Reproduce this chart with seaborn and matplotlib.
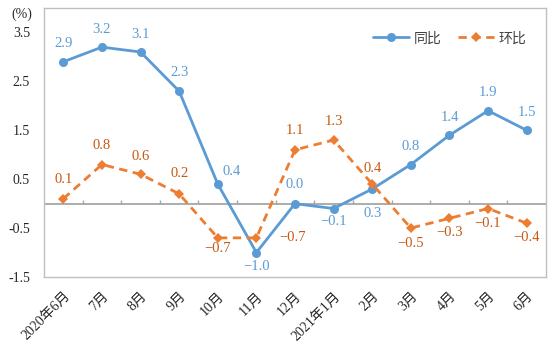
import numpy as np
import pandas as pd
import matplotlib
matplotlib.use("Agg")
import matplotlib.pyplot as plt
import seaborn as sns

categories = ["2020年6月", "7月", "8月", "9月", "10月", "11月", "12月",
              "2021年1月", "2月", "3月", "4月", "5月", "6月"]
yoy = [2.9, 3.2, 3.1, 2.3, 0.4, -1.0, 0.0, -0.1, 0.3, 0.8, 1.4, 1.9, 1.5]
mom = [0.1, 0.8, 0.6, 0.2, -0.7, -0.7, 1.1, 1.3, 0.4, -0.5, -0.3, -0.1, -0.4]
series_names = ["同比", "环比"]
y_ticks = [-1.5, -0.5, 0.5, 1.5, 2.5, 3.5]

# label offsets (pixels)
yoy_off = [(0, 18), (0, 18), (0, 18), (0, 19), (14, 13), (0, -14), (0, 19),
           (0, -13), (0, -25), (0, 18), (0, 18), (0, 18), (0, 18)]
mom_off = [(0, 19), (0, 19), (0, 18), (0, 20), (0, -11), (36, 0), (0, 19),
           (0, 19), (0, 16), (0, -15), (0, -14), (0, -15), (0, -14)]

sns.set_style("white")
plt.rcParams["font.family"] = ["Liberation Serif", "Noto Sans CJK SC", "DejaVu Sans"]
plt.rcParams["axes.unicode_minus"] = False

BLUE = "#5B9BD5"
ORANGE = "#ED7D31"
ORANGE_TXT = "#C65911"
GRID = "#BFBFBF"

fig = plt.figure(figsize=(5.5, 3.49), dpi=100)
ax = fig.add_axes([44 / 550, 1 - 277 / 349, (546 - 44) / 550, (277 - 8) / 349])

x = np.arange(len(categories))
df = pd.DataFrame({"x": x, "yoy": yoy, "mom": mom})

ax.axhline(0, color="#A6A6A6", lw=1.3, zorder=1)

sns.lineplot(data=df, x="x", y="yoy", ax=ax, color=BLUE, lw=2.0,
             marker="o", markersize=6.5, markeredgewidth=0, label=series_names[0],
             zorder=3)
sns.lineplot(data=df, x="x", y="mom", ax=ax, color=ORANGE, lw=2.0,
             marker="D", markersize=5.5, markeredgewidth=0, label=series_names[1],
             zorder=3)
ax.lines[-1].set_dashes([3.0, 2.0])

def fmt(v):
    return f"{v:.1f}".replace("-", "\u2212")

for i, v in enumerate(yoy):
    ax.annotate(fmt(v), (x[i], v), xytext=yoy_off[i], textcoords="offset pixels",
                ha="center", va="center", color=BLUE, fontsize=10.5,
                family="Liberation Serif", zorder=4)
for i, v in enumerate(mom):
    ax.annotate(fmt(v), (x[i], v), xytext=mom_off[i], textcoords="offset pixels",
                ha="center", va="center", color=ORANGE_TXT, fontsize=10.5,
                family="Liberation Serif", zorder=4)

ax.set_xlim(-0.5, len(categories) - 0.5)
ax.set_ylim(-1.5, 4.0)
ax.set_yticks(y_ticks)
ax.set_yticklabels([f"{t:.1f}" for t in y_ticks], fontsize=10, color="#262626",
                   family="Liberation Serif")
ax.tick_params(axis="y", direction="in", length=4, color=GRID, pad=10)

ax.set_xticks(x)
ax.set_xticklabels(categories, rotation=45, ha="right", va="top",
                   rotation_mode="anchor", fontsize=10, color="#262626")
ax.tick_params(axis="x", length=0, pad=9)
ax.set_xlabel("")
ax.set_ylabel("")

for s in ax.spines.values():
    s.set_visible(True)
    s.set_color(GRID)
    s.set_linewidth(1.0)

# category-boundary tick marks on the zero line
sec = ax.secondary_xaxis(1.5 / 5.5)
sec.set_xticks(np.arange(len(categories) - 1) + 0.5)
sec.set_xticklabels([])
sec.tick_params(axis="x", direction="in", length=3, color="#A6A6A6", width=1)
sec.spines["bottom"].set_visible(False)
sec.spines["top"].set_visible(False)

fig.text(22 / 550, 1 - 14 / 349, "(%)", ha="center", va="center", fontsize=10,
         color="#262626", family=["Liberation Serif", "Noto Sans CJK SC"])

leg = ax.legend(loc="upper right", bbox_to_anchor=(0.985, 0.96), ncol=2,
                frameon=False, handlelength=2.6, columnspacing=1.2,
                handletextpad=0.3, prop={"family": "Noto Sans CJK SC", "size": 10})
for t in leg.get_texts():
    t.set_color("#404040")

fig.savefig("out.png", dpi=100)
